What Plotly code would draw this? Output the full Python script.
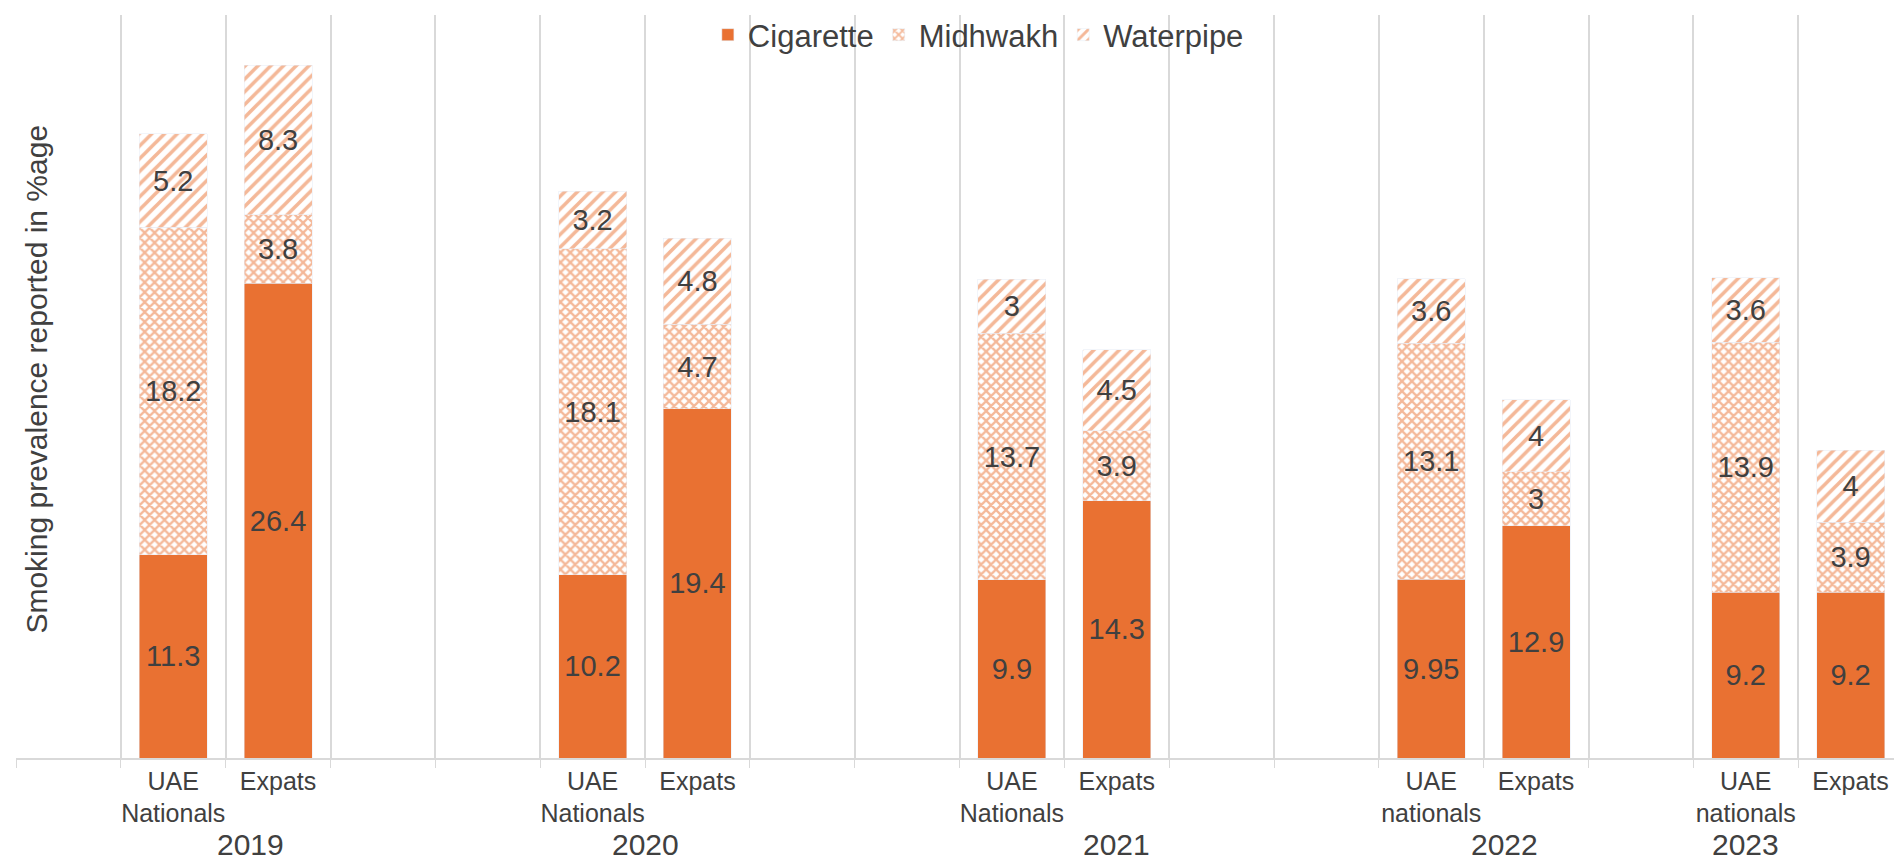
import plotly.graph_objects as go

positions = [1, 2, 5, 6, 9, 10, 13, 14, 16, 17]
groups = ["UAE<br>Nationals", "Expats", "UAE<br>Nationals", "Expats", "UAE<br>Nationals", "Expats",
          "UAE<br>nationals", "Expats", "UAE<br>nationals", "Expats"]
cigarette = [11.3, 26.4, 10.2, 19.4, 9.9, 14.3, 9.95, 12.9, 9.2, 9.2]
midhwakh = [18.2, 3.8, 18.1, 4.7, 13.7, 3.9, 13.1, 3, 13.9, 3.9]
waterpipe = [5.2, 8.3, 3.2, 4.8, 3, 4.5, 3.6, 4, 3.6, 4]
years = ["2019", "2020", "2021", "2022", "2023"]
year_pos = [1.74, 5.5, 10.0, 13.7, 16.0]

OR = "#E97132"
TXT = "#404040"
lab = dict(size=29, color=TXT, family="Liberation Sans")

fig = go.Figure()
fig.add_bar(name="Cigarette", x=positions, y=cigarette, marker_color=OR, width=0.65,
            text=[str(v) for v in cigarette], textposition="inside", insidetextanchor="middle",
            textfont=lab, textangle=0)
fig.add_bar(name="Midhwakh", x=positions, y=midhwakh, width=0.65,
            marker=dict(color="white", pattern=dict(shape="x", fgcolor=OR, bgcolor="white", size=7, solidity=0.55)),
            text=[str(v) for v in midhwakh], textposition="inside", insidetextanchor="middle",
            textfont=lab, textangle=0)
fig.add_bar(name="Waterpipe", x=positions, y=waterpipe, width=0.65,
            marker=dict(color="white", pattern=dict(shape="/", fgcolor=OR, bgcolor="white", size=9, solidity=0.4)),
            text=[str(v) for v in waterpipe], textposition="inside", insidetextanchor="middle",
            textfont=lab, textangle=0)

for y, p in zip(years, year_pos):
    fig.add_annotation(x=p, xref="x", y=-0.117, yref="paper", text=y, showarrow=False,
                       font=dict(size=30, color=TXT, family="Liberation Sans"), yanchor="middle")
fig.add_annotation(x=0.0, xref="paper", xshift=2, y=0.51, yref="paper", text="Smoking prevalence reported in %age",
                   textangle=-90, showarrow=False, xanchor="left",
                   font=dict(size=30, color=TXT, family="Liberation Sans"))

fig.update_layout(
    barmode="stack", width=1902, height=857, plot_bgcolor="white", paper_bgcolor="white",
    margin=dict(l=8, r=7, t=0, b=107), uniformtext=dict(mode=False),
    font=dict(family="Liberation Sans", color=TXT),
    legend=dict(orientation="h", x=0.51, xanchor="center", y=1.01, yanchor="top",
                font=dict(size=31, color=TXT), bgcolor="rgba(255,255,255,0)", traceorder="normal"),
    xaxis=dict(range=[-0.5, 17.5], tickmode="array", tickvals=positions, ticktext=groups,
               tickfont=dict(size=25, color=TXT), showgrid=False, showline=True, linecolor="#D9D9D9",
               linewidth=1.5, ticks="",
               minor=dict(tickmode="array", tickvals=[i - 0.5 for i in range(19)], showgrid=True,
                          gridcolor="#D9D9D9", gridwidth=1.5, ticks="outside", ticklen=8, tickcolor="#D9D9D9")),
    yaxis=dict(range=[0, 41.3], visible=False),
)
fig.write_html("out.html")
